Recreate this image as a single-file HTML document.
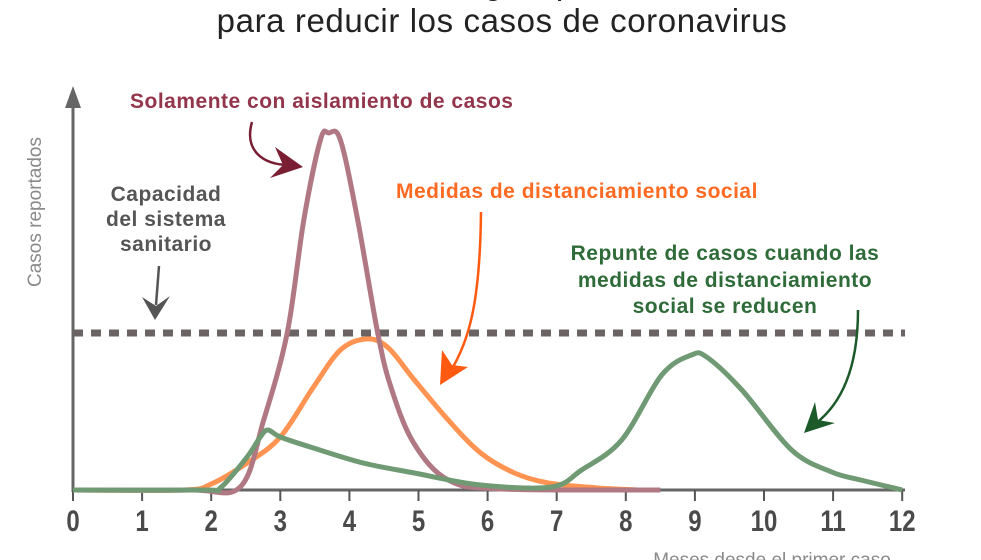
<!DOCTYPE html>
<html><head><meta charset="utf-8"><style>
body{margin:0;background:#fff;width:981px;height:560px;overflow:hidden;font-family:"Liberation Sans",sans-serif}
svg{display:block}
</style></head><body>
<svg id="c" width="981" height="560" viewBox="0 0 981 560">
<text x="500" y="-6" text-anchor="middle" font-size="34" fill="#222">Estrategias para</text>
<text x="502" y="32" text-anchor="middle" font-size="33" letter-spacing="0.6" fill="#222">para reducir los casos de coronavirus</text>
<text transform="translate(41,212) rotate(-90)" text-anchor="middle" font-size="19" fill="#8a8a8a">Casos reportados</text>
<text x="772" y="566" text-anchor="middle" font-size="19" fill="#8a8a8a">Meses desde el primer caso</text>
<g id="axes"></g>
<g id="series"></g>
<g font-weight="bold" font-size="21" letter-spacing="0.5">
<text x="130" y="108" fill="#93354b">Solamente con aislamiento de casos</text>
<text fill="#555" text-anchor="middle"><tspan x="166" y="201">Capacidad</tspan><tspan x="166" y="226">del sistema</tspan><tspan x="166" y="251">sanitario</tspan></text>
<text x="396" y="198" fill="#ff6a22">Medidas de distanciamiento social</text>
<text fill="#2e6b38" text-anchor="middle"><tspan x="725" y="260">Repunte de casos cuando las</tspan><tspan x="725" y="287">medidas de distanciamiento</tspan><tspan x="725" y="313">social se reducen</tspan></text>
</g>
<g fill="none" stroke-width="2.5">
<path d="M252,122 C244,150 262,165 290,165" stroke="#7a1f33"/><polygon points="303,167 270,178 283,165 275,147" fill="#7a1f33"/>
<path d="M159,266 L156,305" stroke="#555"/><polygon points="155,320 142,297 156,306 170,296" fill="#555"/>
<path d="M481,212 C480,300 470,340 450,372" stroke="#ff5a10"/><polygon points="440,385 442,350 452,365 468,367" fill="#ff5a10"/>
<path d="M858,310 C858,370 840,405 815,424" stroke="#1d5a2a"/><polygon points="804,433 815,402 818,420 835,423" fill="#1d5a2a"/>
</g>
</svg>
<script>
const xTicks=[0,1,2,3,4,5,6,7,8,9,10,11,12];
const capacity=157;
const isoX=[0,1.7,2.42,2.76,3.1,3.34,3.58,3.7,3.87,4.12,4.41,4.6,4.93,5.43,6.2,8.5];
const isoY=[0,0,3,70,157,270,350,357,350,270,157,103,47,10,1,0];
const distX=[0,1.6,2.0,2.52,3.0,3.48,3.87,4.24,4.55,4.94,5.43,5.9,6.39,6.88,7.6,8.2];
const distY=[0,0,6,27,53,103,140,151,143,110,70,37,17,7,2,0];
const reboundX=[0,1.9,2.13,2.52,2.71,2.82,3.0,3.48,4.2,4.94,5.9,6.92,7.36,7.94,8.52,8.95,9.17,9.68,10.4,10.98,11.4,12];
const reboundY=[0,0,2,33,53,60,53,42,27,17,5,3,20,50,115,135,133,100,40,18,10,0];
const NS='http://www.w3.org/2000/svg';
const x=v=>73+v*69.1, y=v=>490-v;
function mk(t,a,p){const e=document.createElementNS(NS,t);for(const k in a)e.setAttribute(k,a[k]);p.appendChild(e);return e;}
const ax=document.getElementById('axes'), se=document.getElementById('series');
let l=mk('line',{x1:73,y1:490,x2:905,y2:490,stroke:'#666','stroke-width':3},ax);


l=mk('line',{x1:73,y1:492,x2:73,y2:100,stroke:'#666','stroke-width':3},ax);


l=mk('polygon',{points:'73,86 65,108 81,108',fill:'#666'},ax);


xTicks.forEach(t=>{
  let k=mk('line',{x1:x(t),y1:490,x2:x(t),y2:501,stroke:'#555','stroke-width':2},ax);
  
  
  let tx=mk('text',{x:x(t)/0.8,y:531,'text-anchor':'middle','font-size':30,'font-weight':'bold',fill:'#4a4a4a',transform:'scale(0.8,1)'},ax);
  
  
  tx.textContent=t;
});
l=mk('line',{x1:73,y1:y(capacity),x2:905,y2:y(capacity),stroke:'#6b6363','stroke-width':7,'stroke-dasharray':'10 8'},se);


function path(X,Y){
  const P=X.map((v,i)=>[x(v),y(Y[i])]);
  let d='M'+P[0][0].toFixed(1)+','+P[0][1].toFixed(1);
  for(let i=0;i<P.length-1;i++){
    const p0=P[i-1]||P[i],p1=P[i],p2=P[i+1],p3=P[i+2]||P[i+1];
    const c1=[p1[0]+(p2[0]-p0[0])/6,p1[1]+(p2[1]-p0[1])/6];
    const c2=[p2[0]-(p3[0]-p1[0])/6,p2[1]-(p3[1]-p1[1])/6];
    d+=' C'+c1.map(n=>n.toFixed(1))+' '+c2.map(n=>n.toFixed(1))+' '+p2.map(n=>n.toFixed(1));
  }
  return d;
}
[[distX,distY,'#ff9452','distancing-curve'],[isoX,isoY,'#b07882','isolation-curve'],[reboundX,reboundY,'#6f9a74','rebound-curve']].forEach(s=>{
  const p=mk('path',{d:path(s[0],s[1]),fill:'none',stroke:s[2],'stroke-width':5,'stroke-linejoin':'round'},se);
  
  
});
</script>
</body></html>
